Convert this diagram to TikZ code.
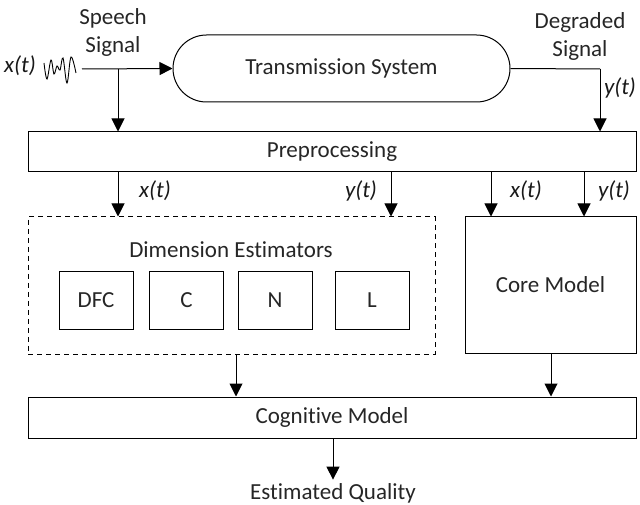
\documentclass[tikz,border=0pt]{standalone}
\usepackage{fontspec}
\setmainfont{Carlito}[Ligatures=NoCommon]
\usetikzlibrary{shapes.misc,arrows.meta}
\begin{document}
\begin{tikzpicture}[x=1pt,y=-1pt,
  every node/.style={font=\fontsize{23}{28}\selectfont, text=black!85},
  box/.style={draw=black, line width=1pt, inner sep=0pt, fill=white},
  lbl/.style={font=\fontsize{23}{28}\selectfont\itshape, text=black!90},
  arr/.style={line width=1pt, -{Triangle[length=13pt,width=13pt]}},
  ln/.style={line width=1pt}]
\useasboundingbox (0,0) rectangle (640,505);
% nodes
\node[box, shape=rounded rectangle, minimum width=337pt, minimum height=67pt] (ts) at (341.5,68.5) {Transmission System};
\node[box, minimum width=608pt, minimum height=40pt] (pre) at (332,152) {Preprocessing};
\node[box, dashed, dash pattern=on 5pt off 4pt, minimum width=407pt, minimum height=137pt] (dim) at (231.5,285.5) {};
\node (dimt) at (231,250) {Dimension Estimators};
\node[box, minimum width=74pt, minimum height=58pt] (dfc) at (96,300) {DFC};
\node[box, minimum width=74pt, minimum height=58pt] (c) at (186.5,300) {C};
\node[box, minimum width=74pt, minimum height=58pt] (n) at (275,300) {N};
\node[box, minimum width=74pt, minimum height=58pt] (l) at (372,300) {L};
\node[box, minimum width=171pt, minimum height=136pt] (core) at (550.5,285) {Core Model};
\node[box, minimum width=608pt, minimum height=41pt] (cog) at (332,417.5) {Cognitive Model};
\node (eq) at (333,493) {Estimated Quality};
% top labels
\node[align=center] (ss) at (113,32) {Speech\\Signal};
\node[align=center] (ds) at (580,36) {Degraded\\Signal};
\node[lbl] (xin) at (20,66) {x(t)};
\node[lbl] (yout) at (620,88) {y(t)};
\node[lbl] (x1) at (155,191) {x(t)};
\node[lbl] (y1) at (361,191) {y(t)};
\node[lbl] (x2) at (526,191) {x(t)};
\node[lbl] (y2) at (614,191) {y(t)};
% wave
\draw[line width=0.9pt] plot[smooth, tension=0.6] coordinates {(44,63) (47,79) (51,60) (54,74) (57,66) (60,70) (63,58) (67,83) (71,57) (76,73)};
% coordinates
\coordinate (sin) at (82,69);
\coordinate (xa) at (118,0);
\coordinate (xb) at (391,0);
\coordinate (xc) at (491,0);
\coordinate (xd) at (584,0);
\coordinate (xe) at (600,69);
\coordinate (xf) at (236,0);
\coordinate (xg) at (551,0);
\coordinate (xh) at (333,0);
% connectors
\draw[arr] (sin) -- (ts.west);
\draw[arr] (xa |- sin) -- (xa |- pre.north);
\draw[ln] (ts.east) -- (xe);
\draw[arr] (xe) -- (xe |- pre.north);
\draw[arr] (xa |- pre.south) -- (xa |- dim.north);
\draw[arr] (xb |- pre.south) -- (xb |- dim.north);
\draw[arr] (xc |- pre.south) -- (xc |- core.north);
\draw[arr] (xd |- pre.south) -- (xd |- core.north);
\draw[arr] (xf |- dim.south) -- (xf |- cog.north);
\draw[arr] (xg |- core.south) -- (xg |- cog.north);
\draw[arr] (xh |- cog.south) -- (xh |- eq.north);
\end{tikzpicture}
\end{document}
